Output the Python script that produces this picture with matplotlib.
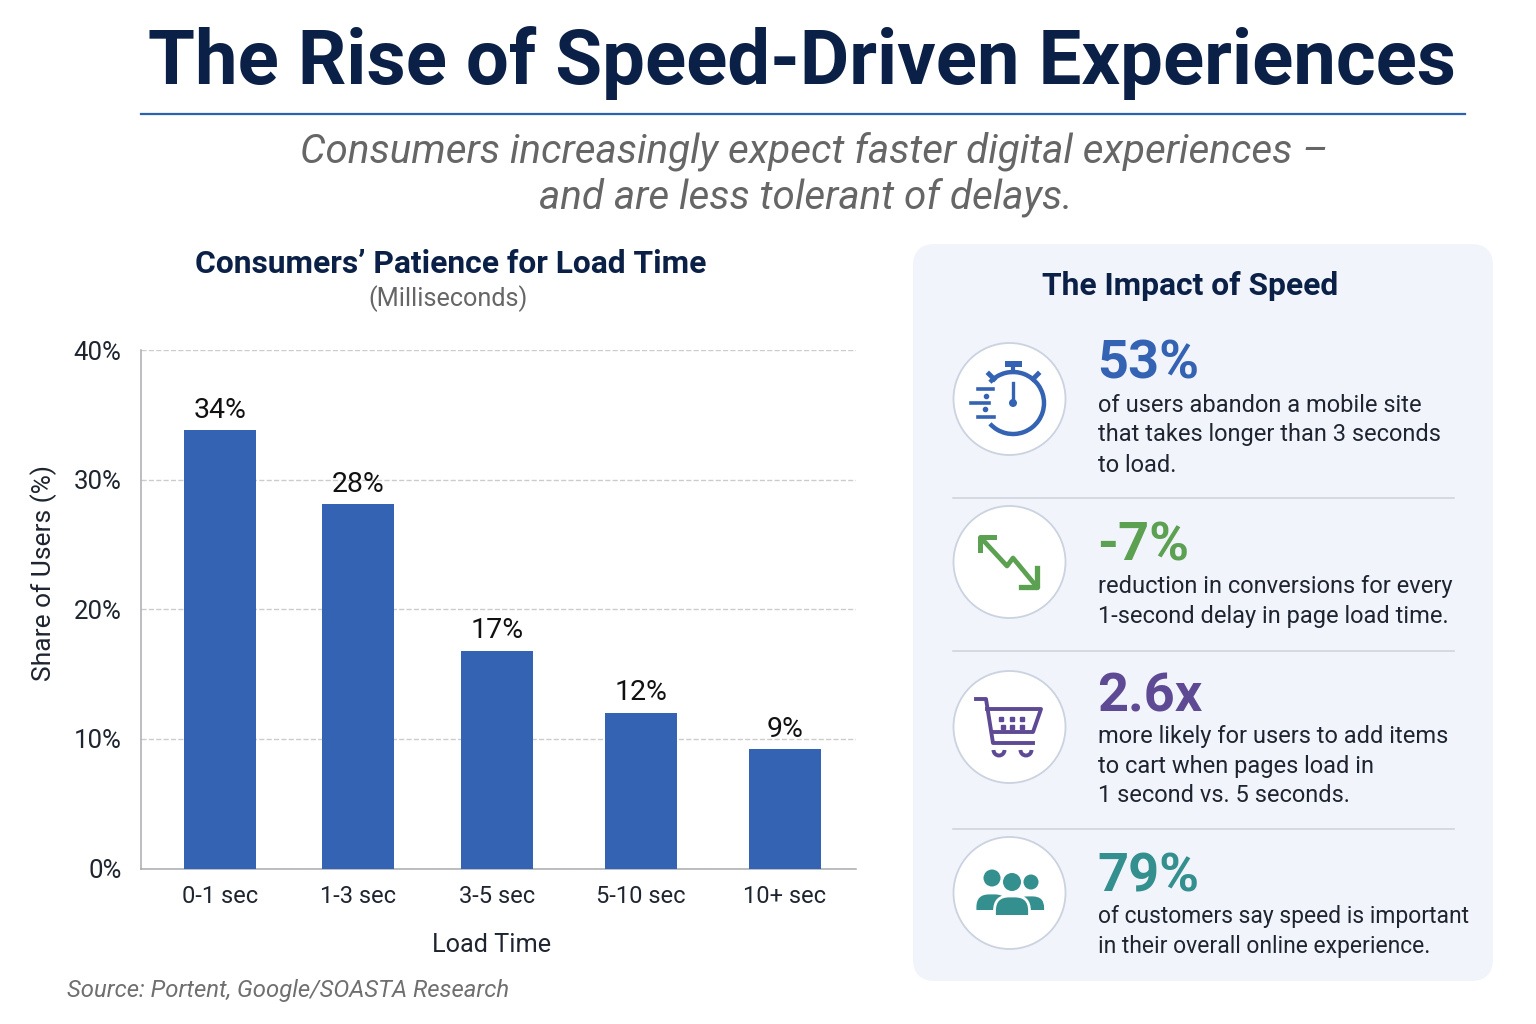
#!/usr/bin/env python3
# Speed-driven experiences infographic
import matplotlib
matplotlib.use("Agg")
import matplotlib.pyplot as plt
from matplotlib.patches import Circle, FancyBboxPatch, Rectangle, Arc

categories = ["0-1 sec", "1-3 sec", "3-5 sec", "5-10 sec", "10+ sec"]
values = [34, 28, 17, 12, 9]
bar_heights = [33.8, 28.1, 16.8, 12.0, 9.2]
y_ticks = [0, 10, 20, 30, 40]
stat_labels = ["53%", "-7%", "2.6x", "79%"]
stat_texts = [
    "of users abandon a mobile site\nthat takes longer than 3 seconds\nto load.",
    "reduction in conversions for every\n1-second delay in page load time.",
    "more likely for users to add items\nto cart when pages load in\n1 second vs. 5 seconds.",
    "of customers say speed is important\nin their overall online experience.",
]
stat_colors = ["#3463b3", "#5ba151", "#5e4a94", "#34908f"]

NAVY = "#0b2046"
BLUE = "#3463b3"
GREY = "#666666"
DARK = "#1f2530"

plt.rcParams["font.family"] = ["Roboto", "DejaVu Sans"]

fig = plt.figure(figsize=(15.36, 10.24), dpi=100)
# full figure overlay in pixel coordinates
bg = fig.add_axes([0, 0, 1, 1])
bg.set_xlim(0, 1536)
bg.set_ylim(1024, 0)
bg.axis("off")

bg.text(802, 63, "The Rise of Speed-Driven Experiences", ha="center", va="center",
        fontsize=54.8, fontweight="bold", color=NAVY)
bg.plot([141, 1465], [114, 114], color="#2a62b0", lw=1.6)
bg.text(814, 151, "Consumers increasingly expect faster digital experiences –", ha="center",
        va="center", fontsize=29.1, style="italic", color=GREY)
bg.text(806, 197, "and are less tolerant of delays.", ha="center", va="center",
        fontsize=29.1, style="italic", color=GREY)

bg.text(451, 264, "Consumers’ Patience for Load Time", ha="center", va="center",
        fontsize=22.9, fontweight="bold", color=NAVY)
bg.text(448, 299, "(Milliseconds)", ha="center", va="center", fontsize=18.2, color=GREY)
bg.text(67, 990, "Source: Portent, Google/SOASTA Research",
        ha="left", va="center", fontsize=17.2, style="italic", color="#6f6f6f")

# right panel
bg.add_patch(FancyBboxPatch((913, 244), 580, 737, boxstyle="round,pad=0,rounding_size=22",
                            fc="#f1f4fa", ec="none"))
bg.text(1190, 286, "The Impact of Speed", ha="center", va="center",
        fontsize=22.85, fontweight="bold", color=NAVY)

icon_y = [399, 562, 727, 893]
stat_y = [364, 546, 697, 877]
text_y = [[404, 434, 464], [585, 615], [735, 765, 795], [916, 946]]
text_sizes = [17, 17, 17, 16.5]
for i in range(4):
    bg.add_patch(Circle((1009.5, icon_y[i]), 56, fc="white", ec="#cbd2e0", lw=1.3))
    bg.text(1097, stat_y[i], stat_labels[i], ha="left", va="center", fontsize=39,
            fontweight="bold", color=stat_colors[i])
    for line, y in zip(stat_texts[i].split("\n"), text_y[i]):
        bg.text(1098, y + 1, line, ha="left", va="center", fontsize=text_sizes[i], color=DARK)
for y in [498, 651, 829]:
    bg.plot([953, 1454], [y, y], color="#cdd2da", lw=1.1)

# stopwatch
c = stat_colors[0]
bg.add_patch(Arc((1013, 403), 62, 62, theta1=-138, theta2=138, color=c, lw=3.2))
bg.add_patch(Rectangle((1005, 361), 17, 6, fc=c, ec="none"))
bg.plot([1013, 1013], [367, 372], color=c, lw=3)
bg.plot([1013, 1013], [383, 403], color=c, lw=2.4)
bg.add_patch(Circle((1013, 403), 4, fc=c, ec="none"))
bg.plot([989, 994], [374, 379], color=c, lw=3.5)
bg.plot([1038, 1033], [374, 379], color=c, lw=3.5)
for x0, x1, y in [(978, 993, 389), (971, 989, 403), (978, 994, 417)]:
    bg.plot([x0, x1], [y, y], color=c, lw=2.6)
bg.plot([986, 985], [396, 409], ls="none", marker="o", ms=3, color=c)

# falling arrow
c = stat_colors[1]
bg.plot([982, 1007, 1013, 1037], [539, 566, 558, 587], color=c, lw=3.4)
bg.plot([994, 980, 980], [537, 537, 550], color=c, lw=3.6)
bg.plot([1037, 1037, 1021], [568, 587, 587], color=c, lw=3.8)

# cart
c = stat_colors[2]
bg.plot([976, 986, 993, 1033], [699, 699, 743, 743], color=c, lw=2.8)
bg.plot([987, 1041, 1033, 992], [709, 709, 732, 732], color=c, lw=2.8)
for x in [999, 1026]:
    bg.add_patch(Arc((x, 750), 11, 11, theta1=0, theta2=180, color=c, lw=2.8))
bg.plot([1001, 1012, 1022, 1003, 1012, 1022], [719, 719, 719, 727, 727, 727],
        ls="none", marker="s", ms=3, color=c)

# people
c = stat_colors[3]
for x, y, r in [(992, 878, 8.5), (1012, 882, 9), (1031, 882, 7.5)]:
    bg.add_patch(Circle((x, y), r, fc=c, ec="none"))
for x, w, top, base, z in [(992, 34, 893, 910, 2), (1030, 31, 895, 910, 2), (1012, 35, 896, 915, 3)]:
    body = FancyBboxPatch((x - w / 2, top), w, 40, boxstyle=f"round,pad=0,rounding_size={w * 0.42}",
                          fc=c, ec="white", lw=2, zorder=z)
    bg.add_patch(body)
    body.set_clip_path(Rectangle((x - w, top - 3), 2 * w, base - top + 3, transform=bg.transData))

# bar chart
ax = fig.add_axes([141 / 1536, 1 - 868.5 / 1024, (856 - 141) / 1536, (868.5 - 350) / 1024])
ax.patch.set_alpha(0)
x_pos = [0.55, 1.508, 2.474, 3.475, 4.475]
ax.bar(x_pos, bar_heights, width=0.5, color=BLUE, zorder=3)
ax.set_xlim(0, 4.97)
ax.set_ylim(0, 40)
for spine in ["top", "right"]:
    ax.spines[spine].set_visible(False)
for spine in ["left", "bottom"]:
    ax.spines[spine].set_color("#a8abb0")
    ax.spines[spine].set_linewidth(1.1)
ax.set_yticks(y_ticks)
ax.set_yticklabels([f"{t}%" for t in y_ticks], fontsize=18.5, color=DARK, va="center_baseline")
ax.set_xticks(x_pos)
ax.set_xticklabels(categories, fontsize=17, color=DARK)
ax.tick_params(axis="y", length=0, pad=14)
ax.tick_params(axis="x", length=0, pad=12)
ax.grid(axis="y", ls="--", color="#cccccc", lw=1, zorder=0)
for xp, h, v in zip(x_pos, bar_heights, values):
    ax.text(xp, h + 0.5, f"{v}%", ha="center", va="bottom", fontsize=20.5, color="#111111")
bg.text(44, 573, "Share of Users (%)", rotation=90, ha="center", va="center", fontsize=19, color=DARK)
bg.text(492, 945, "Load Time", ha="center", va="center", fontsize=18.2, color=DARK)

fig.savefig("out.png", dpi=100)
